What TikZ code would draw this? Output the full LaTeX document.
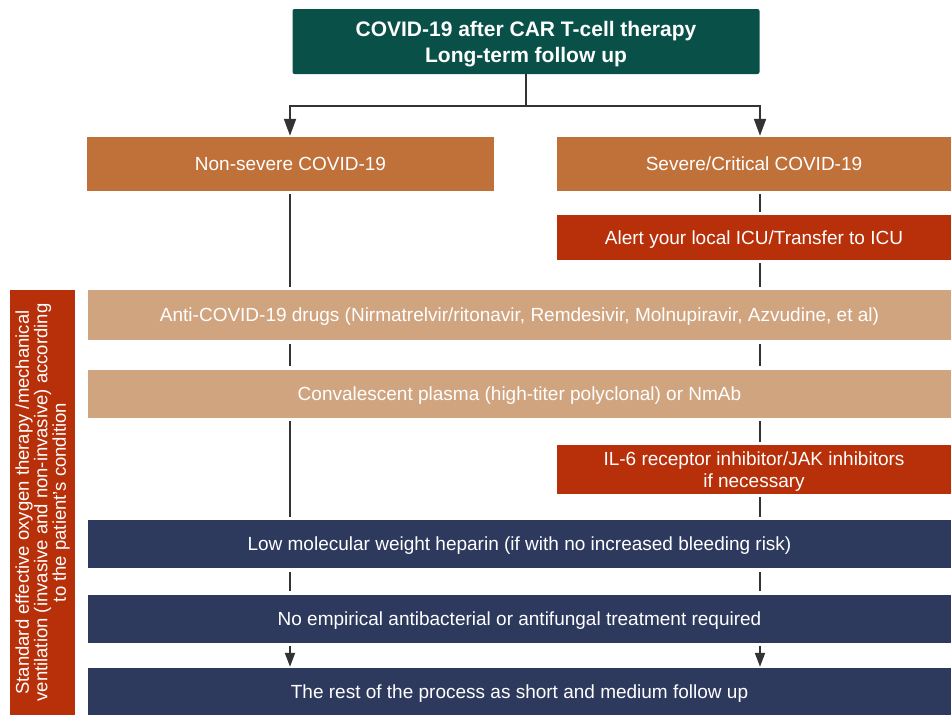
\documentclass[tikz,border=0pt]{standalone}
\usepackage{fontspec}
\setmainfont{Liberation Sans}
\usetikzlibrary{arrows.meta,positioning,calc}
\definecolor{headteal}{RGB}{9,81,72}
\definecolor{gradeorange}{RGB}{192,113,58}
\definecolor{alertred}{RGB}{184,48,10}
\definecolor{drugtan}{RGB}{209,164,128}
\definecolor{carenavy}{RGB}{46,57,94}
\definecolor{linegray}{RGB}{51,51,51}

\begin{document}
\begin{tikzpicture}[x=1pt, y=-1pt,
        every node/.style={rectangle, text=white, align=center, inner sep=0pt},
        headbox/.style={fill=headteal, rounded corners=2pt, minimum width=467pt, minimum height=65pt,
            text depth=0pt, font=\fontsize{21}{26}\selectfont\bfseries},
        gradebox/.style={fill=gradeorange, minimum height=54pt, text depth=0pt, font=\fontsize{19}{22}\selectfont},
        alertbox/.style={fill=alertred, minimum width=394pt, text depth=0pt, font=\fontsize{19}{22}\selectfont},
        drugbox/.style={fill=drugtan, minimum width=863pt, text depth=0pt, font=\fontsize{19}{22}\selectfont},
        carebox/.style={fill=carenavy, minimum width=863pt, minimum height=48pt, text depth=0pt,
            font=\fontsize{19}{22}\selectfont},
        flowline/.style={draw=linegray, line width=2pt},
        flowarrow/.style={flowline, -{Triangle[length=17pt, width=12pt]}}]

    \useasboundingbox (0,0) rectangle (951,715);

    % top of the chart
    \node[headbox] (head) at (526,41.5) {COVID-19 after CAR T-cell therapy\\Long-term follow up};
    \node[gradebox, minimum width=407pt] (nonsevere) at (290.5,164) {Non-severe COVID-19};
    \node[gradebox, minimum width=394pt] (severe) at (754,164) {Severe/Critical COVID-19};
    \node[alertbox, minimum height=45pt] (icu) at (754,237.5) {Alert your local ICU/Transfer to ICU};

    % treatment steps
    \node[drugbox, minimum height=50pt] (antiviral) at (519.5,315)
        {Anti-COVID-19 drugs (Nirmatrelvir/ritonavir, Remdesivir, Molnupiravir, Azvudine, et al)};
    \node[drugbox, minimum height=48pt] (plasma) at (519.5,394)
        {Convalescent plasma (high-titer polyclonal) or NmAb};
    \node[alertbox, minimum height=49pt] (ilsix) at (754,469.5)
        {IL-6 receptor inhibitor/JAK inhibitors\\if necessary};
    \node[carebox] (heparin) at (519.5,544)
        {Low molecular weight heparin (if with no increased bleeding risk)};
    \node[carebox] (noanti) at (519.5,619)
        {No empirical antibacterial or antifungal treatment required};
    \node[carebox, minimum height=47pt] (rest) at (519.5,691.5)
        {The rest of the process as short and medium follow up};

    % side bar
    \node[fill=alertred, minimum width=65pt, minimum height=425pt] (oxygen) at (42.5,502.5) {};
    \node[rotate=90, font=\fontsize{18.5}{18.5}\selectfont] (oxytext) at (oxygen.center)
        {Standard effective oxygen therapy /mechanical\\ventilation (invasive and non-invasive) according\\to the patient's condition};

    % lanes
    \coordinate (laneL) at (290,0);
    \coordinate (laneR) at (760,0);
    \coordinate (split) at (526,106);

    \draw[flowline] (head.south) -- (split);
    \draw[flowarrow, shorten >=1pt] (split) -| (laneL |- nonsevere.north);
    \draw[flowarrow, shorten >=1pt] (split) -| (laneR |- severe.north);

    \draw[flowline, shorten <=3pt, shorten >=3pt] (laneL |- nonsevere.south) -- (laneL |- antiviral.north);
    \draw[flowline, shorten <=3pt, shorten >=3pt] (laneR |- severe.south) -- (laneR |- icu.north);
    \draw[flowline, shorten <=3pt, shorten >=3pt] (laneR |- icu.south) -- (laneR |- antiviral.north);
    \draw[flowline, shorten <=4pt, shorten >=4pt] (laneL |- antiviral.south) -- (laneL |- plasma.north);
    \draw[flowline, shorten <=4pt, shorten >=4pt] (laneR |- antiviral.south) -- (laneR |- plasma.north);
    \draw[flowline, shorten <=3pt, shorten >=3pt] (laneL |- plasma.south) -- (laneL |- heparin.north);
    \draw[flowline, shorten <=3pt, shorten >=3pt] (laneR |- plasma.south) -- (laneR |- ilsix.north);
    \draw[flowline, shorten <=3pt, shorten >=3pt] (laneR |- ilsix.south) -- (laneR |- heparin.north);
    \draw[flowline, shorten <=4pt, shorten >=4pt] (laneL |- heparin.south) -- (laneL |- noanti.north);
    \draw[flowline, shorten <=4pt, shorten >=4pt] (laneR |- heparin.south) -- (laneR |- noanti.north);
    \draw[flowline, -{Triangle[length=14pt, width=10pt]}, shorten <=3pt, shorten >=1pt]
        (laneL |- noanti.south) -- (laneL |- rest.north);
    \draw[flowline, -{Triangle[length=14pt, width=10pt]}, shorten <=3pt, shorten >=1pt]
        (laneR |- noanti.south) -- (laneR |- rest.north);
\end{tikzpicture}
\end{document}
